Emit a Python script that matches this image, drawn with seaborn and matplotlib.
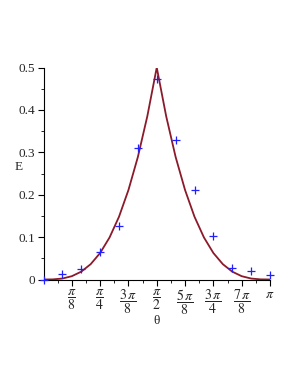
import numpy as np
import pandas as pd
import matplotlib
matplotlib.use("Agg")
import matplotlib.pyplot as plt
import seaborn as sns

PI = np.pi

# measured points (theta = k*pi/12)
point_k = [0, 1, 2, 3, 4, 5, 6, 7, 8, 9, 10, 11, 12]
point_E = [0.0, 0.013, 0.025, 0.064, 0.127, 0.309, 0.472, 0.330, 0.211, 0.102, 0.028, 0.020, 0.010]

# curve values read at theta = k*pi/24
curve_k = list(range(25))
curve_E = [0.0, 0.0003, 0.0023, 0.0078, 0.0185, 0.0362, 0.0625, 0.0992, 0.148, 0.211, 0.289, 0.385,
           0.5,
           0.385, 0.289, 0.211, 0.148, 0.0992, 0.0625, 0.0362, 0.0185, 0.0078, 0.0023, 0.0003, 0.0]

xtick_labels = [r"$\dfrac{\pi}{8}$", r"$\dfrac{\pi}{4}$", r"$\dfrac{3\,\pi}{8}$", r"$\dfrac{\pi}{2}$",
                r"$\dfrac{5\,\pi}{8}$", r"$\dfrac{3\,\pi}{4}$", r"$\dfrac{7\,\pi}{8}$", r"$\pi$"]
ytick_vals = [0, 0.1, 0.2, 0.3, 0.4, 0.5]
ytick_labels = ["0", "0.1", "0.2", "0.3", "0.4", "0.5"]

sns.set_theme(style="white")
plt.rcParams["font.family"] = ["Liberation Serif", "DejaVu Serif"]
plt.rcParams["mathtext.fontset"] = "stix"

curve_df = pd.DataFrame({"theta": np.array(curve_k) * PI / 24, "E": curve_E})
pts_df = pd.DataFrame({"theta": np.array(point_k) * PI / 12, "E": point_E})

fig = plt.figure(figsize=(2.98, 3.85), dpi=100)
ax = fig.add_axes([43.5 / 298, 1 - 279.5 / 385, (270 - 43.5) / 298, (279.5 - 67.5) / 385])

sns.lineplot(data=curve_df, x="theta", y="E", ax=ax, color="#8B1A2A", linewidth=1.3)
ax.scatter(pts_df["theta"], pts_df["E"], marker="+", color="#2020FF", s=30, linewidths=0.9,
           zorder=3, clip_on=False)

ax.set_xlim(0, PI)
ax.set_ylim(0, 0.5)
for s in ["top", "right"]:
    ax.spines[s].set_visible(False)
for s in ["left", "bottom"]:
    ax.spines[s].set_color("black")
    ax.spines[s].set_linewidth(0.8)

ax.set_xticks([k * PI / 8 for k in range(1, 9)])
ax.set_xticklabels(xtick_labels, fontsize=10)
ax.set_xticks([k * PI / 16 for k in range(1, 17)], minor=True)
ax.set_yticks(ytick_vals)
ax.set_yticklabels(ytick_labels, fontsize=9.5)
ax.set_yticks([k * 0.05 for k in range(11)], minor=True)
ax.tick_params(which="both", direction="out", color="black", bottom=True, left=True)
ax.tick_params(which="major", length=4, width=0.8, pad=2)
ax.tick_params(which="minor", length=2.5, width=0.6)

ax.set_xlabel("θ", fontsize=9.5, labelpad=1)
ax.xaxis.set_label_coords(0.5, -0.168)
ax.set_ylabel("E", fontsize=9.5, rotation=0, labelpad=12)
ax.yaxis.set_label_coords(-0.11, 0.5)

fig.savefig("out.png", dpi=100)
